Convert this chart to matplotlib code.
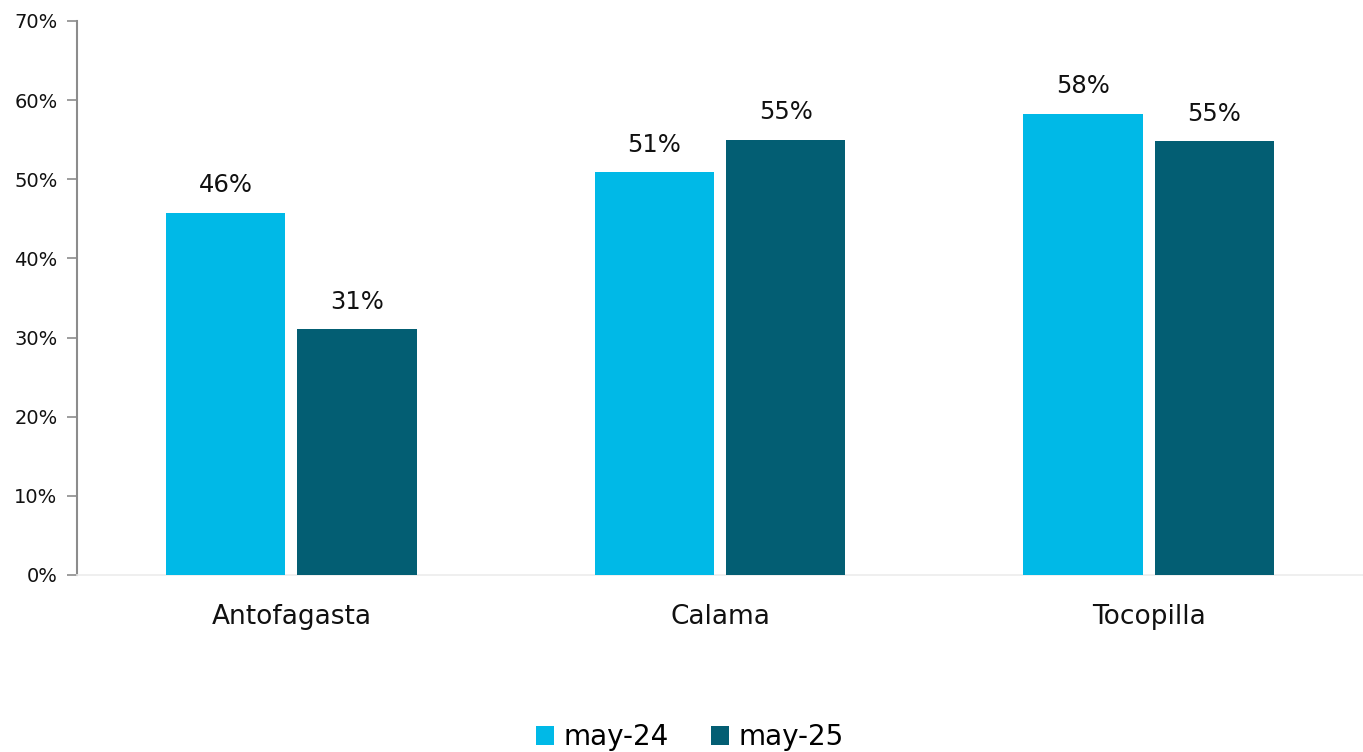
import matplotlib
matplotlib.use("Agg")
import matplotlib.pyplot as plt
import numpy as np
from matplotlib.ticker import FuncFormatter

categories = ["Antofagasta", "Calama", "Tocopilla"]
series_names = ["may-24", "may-25"]
may24 = [45.8, 50.9, 58.3]
may25 = [31.1, 55.0, 54.8]
labels24 = ["46%", "51%", "58%"]
labels25 = ["31%", "55%", "55%"]
yticks = [0, 10, 20, 30, 40, 50, 60, 70]

plt.rcParams['font.family'] = ['DejaVu Sans']

fig = plt.figure(figsize=(13.63, 7.52), dpi=100)
ax = fig.add_axes([77/1363, 1 - 575/752, 1 - 77/1363, (575 - 21)/752])

x = np.arange(len(categories))
w = 0.278
off = 0.153
c1, c2 = "#00B9E7", "#035E73"
b1 = ax.bar(x - off, may24, width=w, color=c1, label=series_names[0], zorder=3)
b2 = ax.bar(x + off, may25, width=w, color=c2, label=series_names[1], zorder=3)

for rects, labs in ((b1, labels24), (b2, labels25)):
    for r, lab in zip(rects, labs):
        ax.annotate(lab, (r.get_x() + r.get_width()/2, r.get_height()),
                    xytext=(0, 11), textcoords="offset points",
                    ha="center", va="bottom", fontsize=17.5, color="#111111")

ax.set_xlim(-0.5, 2.5)
ax.set_ylim(0, 70)
ax.set_yticks(yticks)
ax.yaxis.set_major_formatter(FuncFormatter(lambda v, p: f"{int(v)}%"))
ax.set_xticks(x)
ax.set_xticklabels(categories, fontsize=19, color="#111111")
ax.tick_params(axis="x", length=0, pad=21)
ax.tick_params(axis="y", length=7, width=1.2, color="#8c8c8c", labelsize=14,
               labelcolor="#111111", pad=7)

for s in ("top", "right"):
    ax.spines[s].set_visible(False)
ax.spines["left"].set_color("#8c8c8c")
ax.spines["left"].set_linewidth(1.5)
ax.spines["bottom"].set_color("#ececec")
ax.spines["bottom"].set_linewidth(1.2)

leg = fig.legend(handles=[b1, b2], labels=series_names, loc="center",
                 bbox_to_anchor=(0.506, 1 - 737/752), ncol=2, frameon=False,
                 fontsize=20, handlelength=0.65, handleheight=0.65,
                 handletextpad=0.35, columnspacing=1.5)

fig.savefig("out.png", dpi=100)
